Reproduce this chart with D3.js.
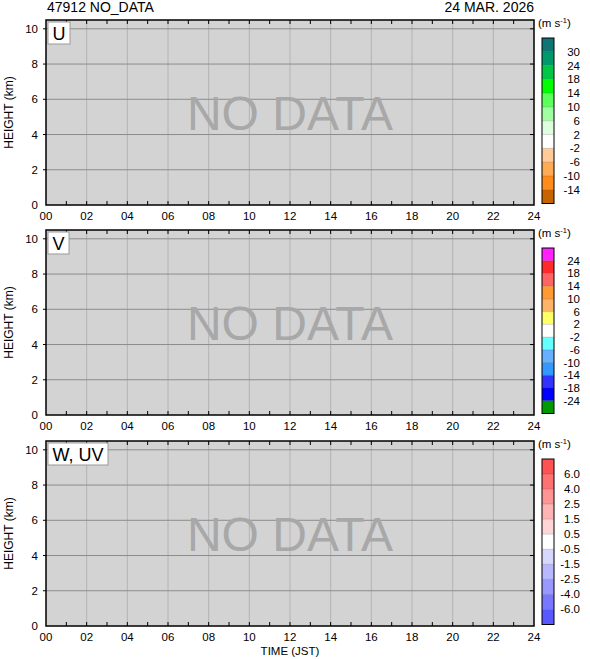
<!DOCTYPE html>
<html><head><meta charset="utf-8">
<script src="https://cdn.jsdelivr.net/npm/d3@7"></script>
<style>
html,body{margin:0;padding:0;background:#fff;}
svg{display:block;font-family:"Liberation Sans",Arial,Helvetica,sans-serif;}
</style></head>
<body>
<svg id="c" width="590" height="659"></svg>
<script>
// ---- data ----
const stationTitle = "47912 NO_DATA";
const dateTitle = "24 MAR. 2026";
const panelNames = ["U", "V", "W, UV"];
const hourDomain = [0, 24];
const heightDomain = [0, 10.5];
const xTickHours = [0,2,4,6,8,10,12,14,16,18,20,22,24];
const xTickLabels = ["00","02","04","06","08","10","12","14","16","18","20","22","24"];
const minorHours = d3.range(0, 25, 1);
const yTicks = [0,2,4,6,8,10];
const uLevels = ["30","24","18","14","10","6","2","-2","-6","-10","-14"];
const uColors = ["#0f7474","#009a6a","#00c846","#00ff00","#5cff5c","#a0ffa0","#ddffdd","#ffffff","#ffcc99","#ffaa55","#ff8c1a","#c86400"];
const vLevels = ["24","18","14","10","6","2","-2","-6","-10","-14","-18","-24"];
const vColors = ["#ff22ff","#ff2a2a","#ff6464","#ff9933","#ffb366","#ffff66","#ffffff","#66ffff","#66b0ff","#3399ff","#3333ff","#0000ff","#009900"];
const wLevels = ["6.0","4.0","2.5","1.5","0.5","-0.5","-1.5","-2.5","-4.0","-6.0"];
const wColors = ["#ff5252","#ff7272","#ff9494","#ffb4b4","#ffd6d6","#ffffff","#d8d8ff","#b8b8ff","#9898ff","#7878ff","#5858ff"];
const noDataText = "NO DATA";
const unitText = "(m s";
const xTitle = "TIME (JST)";
const yTitle = "HEIGHT (km)";

// ---- layout ----
const svg = d3.select("#c");
const L = 46, R = 534;
const panelTops = [20, 230, 441];
const PH = 185;
const cbX = 542, cbW = 12;

const x = d3.scaleLinear().domain(hourDomain).range([L, R]);

svg.append("text").attr("x", 47).attr("y", 11.5).attr("font-size", 14).attr("fill", "#000").text(stationTitle);
svg.append("text").attr("x", R).attr("y", 11.5).attr("font-size", 14).attr("text-anchor", "end").attr("fill", "#000").text(dateTitle);

const cbDefs = [
  {levels: uLevels, colors: uColors},
  {levels: vLevels, colors: vColors},
  {levels: wLevels, colors: wColors}
];

panelNames.forEach((name, pi) => {
  const top = panelTops[pi];
  const bot = top + PH;
  const y = d3.scaleLinear().domain(heightDomain).range([bot, top]);
  const g = svg.append("g");

  g.append("rect").attr("x", L).attr("y", top).attr("width", R - L).attr("height", PH).attr("fill", "#d3d3d3");

  // vertical grid
  g.selectAll(".vg").data(xTickHours.slice(1, -1)).join("line")
    .attr("x1", d => x(d)).attr("x2", d => x(d)).attr("y1", top).attr("y2", bot)
    .attr("stroke", "#b4b4b4").attr("stroke-width", 1);
  // horizontal grid
  g.selectAll(".hg").data(yTicks.slice(1)).join("line")
    .attr("x1", L).attr("x2", R).attr("y1", d => y(d)).attr("y2", d => y(d))
    .attr("stroke", "#8c8c8c").attr("stroke-width", 1);

  // minor ticks top and bottom
  g.selectAll(".tt").data(minorHours.slice(1, -1)).join("line")
    .attr("x1", d => x(d)).attr("x2", d => x(d)).attr("y1", top).attr("y2", top + 4)
    .attr("stroke", "#000").attr("stroke-width", 1);
  g.selectAll(".bt").data(minorHours.slice(1, -1)).join("line")
    .attr("x1", d => x(d)).attr("x2", d => x(d)).attr("y1", bot).attr("y2", bot - 4)
    .attr("stroke", "#000").attr("stroke-width", 1);
  // y ticks right (inward), left (outward)
  g.selectAll(".rt").data(yTicks.slice(1)).join("line")
    .attr("x1", R - 4).attr("x2", R).attr("y1", d => y(d)).attr("y2", d => y(d))
    .attr("stroke", "#000");
  g.selectAll(".lt").data(yTicks.slice(1)).join("line")
    .attr("x1", L - 3).attr("x2", L).attr("y1", d => y(d)).attr("y2", d => y(d))
    .attr("stroke", "#000");

  // NO DATA
  g.append("text").attr("x", (L + R) / 2).attr("y", (top + bot) / 2 + 17)
    .attr("text-anchor", "middle").attr("font-size", 48).attr("fill", "#a8a8a8").text(noDataText);

  // frame
  g.append("rect").attr("x", L).attr("y", top).attr("width", R - L).attr("height", PH)
    .attr("fill", "none").attr("stroke", "#000").attr("stroke-width", 1.5);

  // y labels
  g.selectAll(".yl").data(yTicks).join("text")
    .attr("x", 38).attr("y", d => y(d) + 4).attr("text-anchor", "end").attr("font-size", 11.5)
    .attr("fill", "#000").text(d => d);
  // x labels
  g.selectAll(".xl").data(xTickHours).join("text")
    .attr("x", d => x(d)).attr("y", bot + 14.5).attr("text-anchor", "middle").attr("font-size", 11.5)
    .attr("fill", "#000").text((d, i) => xTickLabels[i]);

  // y title
  g.append("text").attr("transform", `translate(13,${(top + bot) / 2}) rotate(-90)`)
    .attr("text-anchor", "middle").attr("font-size", 12).attr("fill", "#000").text(yTitle);

  // panel label box
  const lbl = g.append("text").attr("x", L + 6.5).attr("y", top + 20).attr("font-size", 18).attr("fill", "#000").text(name);
  const bb = lbl.node().getBBox();
  g.insert("rect", "text:last-of-type").attr("x", L + 2).attr("y", top + 2)
    .attr("width", bb.width + 9).attr("height", 22).attr("fill", "#fff").attr("stroke", "#999").attr("stroke-width", 1);
  lbl.raise();

  // colorbar
  const cb = cbDefs[pi];
  const n = cb.colors.length;
  const cbTop = top + 18, cbBot = bot - 1.5;
  const cy = d3.scaleLinear().domain([0, n]).range([cbTop, cbBot]);
  g.selectAll(".cb").data(cb.colors).join("rect")
    .attr("x", cbX).attr("y", (d, i) => cy(i)).attr("width", cbW).attr("height", (d, i) => cy(i + 1) - cy(i))
    .attr("fill", d => d);
  g.selectAll(".cbs").data(cb.levels).join("line")
    .attr("x1", cbX).attr("x2", cbX + cbW).attr("y1", (d, i) => cy(i + 1)).attr("y2", (d, i) => cy(i + 1))
    .attr("stroke", "#000").attr("stroke-opacity", 0.15);
  g.append("rect").attr("x", cbX).attr("y", cbTop).attr("width", cbW).attr("height", cbBot - cbTop)
    .attr("fill", "none").attr("stroke", "#000").attr("stroke-width", 1);
  g.selectAll(".cbl").data(cb.levels).join("text")
    .attr("x", 580).attr("y", (d, i) => cy(i + 1) + 4).attr("text-anchor", "end").attr("font-size", 11.5)
    .attr("fill", "#000").text(d => d);
  const ut = g.append("text").attr("x", 538).attr("y", top + 7).attr("font-size", 11.5).attr("fill", "#000");
  ut.append("tspan").text(unitText);
  ut.append("tspan").attr("dy", -4).attr("font-size", 7.5).text("-1");
  ut.append("tspan").attr("dy", 4).text(")");
});

svg.append("text").attr("x", 290).attr("y", 655).attr("text-anchor", "middle").attr("font-size", 11.5).attr("fill", "#000").text(xTitle);
</script>
</body></html>
